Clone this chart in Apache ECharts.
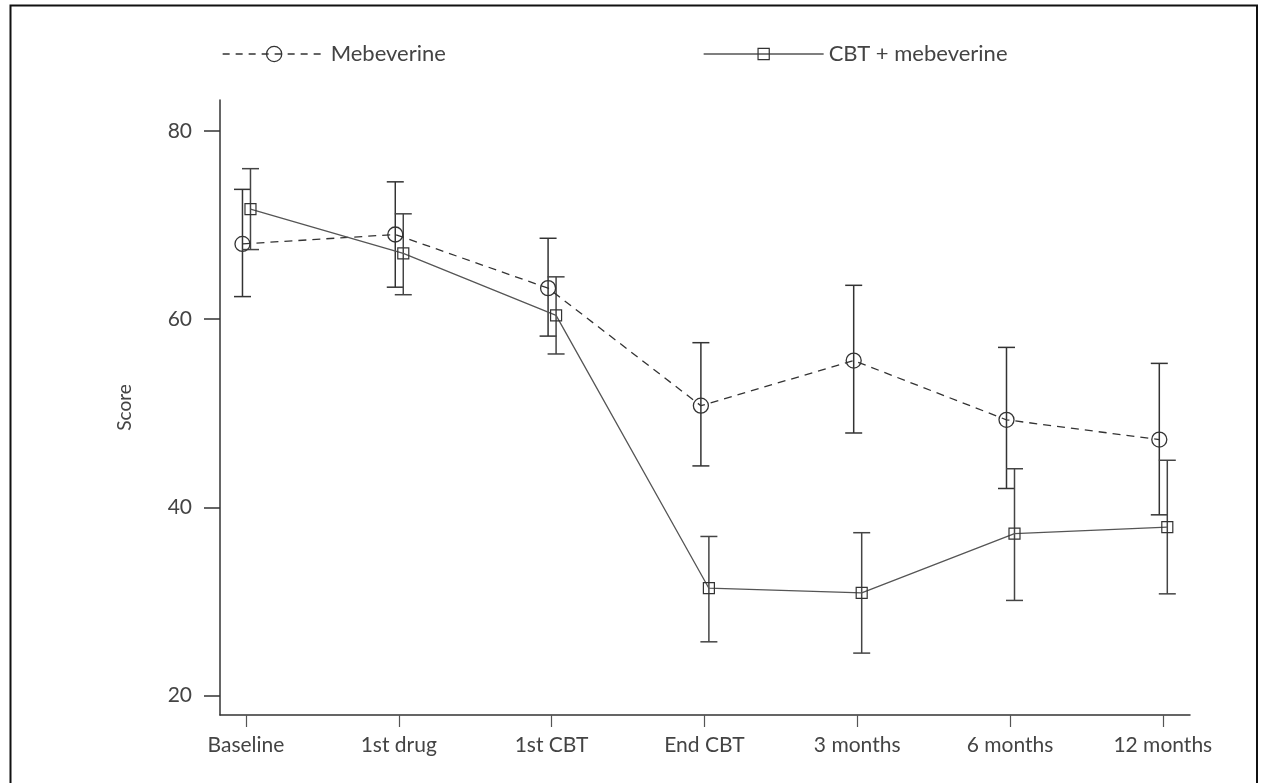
<!DOCTYPE html>
<html>
<head>
<meta charset="utf-8">
<script src="https://cdn.jsdelivr.net/npm/echarts@6/dist/echarts.min.js"></script>
<style>
  html, body { margin: 0; padding: 0; background: #fff; }
  #chart { width: 1261px; height: 783px; }
</style>
</head>
<body>
<div id="chart"></div>
<script>
// Time points
const categories = ['Baseline', '1st drug', '1st CBT', 'End CBT', '3 months', '6 months', '12 months'];

// Mebeverine group: mean score with lower / upper error limits
const mebMean  = [68.0, 69.0, 63.3, 50.8, 55.6, 49.3, 47.2];
const mebLow   = [62.4, 63.4, 58.2, 44.4, 47.9, 42.0, 39.2];
const mebHigh  = [73.8, 74.6, 68.6, 57.5, 63.6, 57.0, 55.3];

// CBT + mebeverine group
const cbtMean  = [71.7, 67.0, 60.4, 31.4, 30.9, 37.2, 37.9];
const cbtLow   = [67.4, 62.6, 56.3, 25.7, 24.5, 30.1, 30.8];
const cbtHigh  = [76.0, 71.2, 64.5, 36.9, 37.3, 44.1, 45.0];

// Y axis tick values
const yTicks = [20, 40, 60, 80];

// Layout
const GRID = { left: 220, right: 71, top: 100, bottom: 68 };
const X_MIN = -0.17, X_MAX = 6.178;
const Y_MIN = 17.92, Y_MAX = 83.3;
const PX_PER_X = (1261 - GRID.left - GRID.right) / (X_MAX - X_MIN);
// the two groups are nudged apart horizontally so their error bars do not overlap
const MEB_SHIFT = -3.5 / PX_PER_X;
const CBT_SHIFT = 4.5 / PX_PER_X;

const TEXT = '#444';
const INK = '#333';
const FONT = 'Lato, "Open Sans", sans-serif';

const mebLine = mebMean.map((v, i) => [i + MEB_SHIFT, v]);
const cbtLine = cbtMean.map((v, i) => [i + CBT_SHIFT, v]);
const mebBars = mebMean.map((v, i) => [i + MEB_SHIFT, mebLow[i], mebHigh[i]]);
const cbtBars = cbtMean.map((v, i) => [i + CBT_SHIFT, cbtLow[i], cbtHigh[i]]);

function errorBar(color) {
  return function (params, api) {
    const x = api.value(0);
    const lo = api.coord([x, api.value(1)]);
    const hi = api.coord([x, api.value(2)]);
    const half = 8.5;
    const style = { stroke: color, lineWidth: 1.5 };
    return {
      type: 'group',
      children: [
        { type: 'line', shape: { x1: lo[0], y1: lo[1], x2: hi[0], y2: hi[1] }, style },
        { type: 'line', shape: { x1: hi[0] - half, y1: hi[1], x2: hi[0] + half, y2: hi[1] }, style },
        { type: 'line', shape: { x1: lo[0] - half, y1: lo[1], x2: lo[0] + half, y2: lo[1] }, style }
      ]
    };
  };
}

const chart = echarts.init(document.getElementById('chart'), null, { renderer: 'canvas' });

chart.setOption({
  backgroundColor: '#fff',
  animation: false,
  textStyle: { fontFamily: FONT },
  graphic: [{
    type: 'rect',
    shape: { x: 10.5, y: 5.5, width: 1246.5, height: 820 },
    style: { fill: 'none', stroke: '#111', lineWidth: 2 },
    silent: true
  }],
  legend: [
    {
      data: ['Mebeverine'],
      left: 222, top: 43, padding: 0,
      itemWidth: 103, itemHeight: 19,
      textStyle: { color: TEXT, fontSize: 22, fontFamily: FONT },
      itemStyle: { color: 'rgba(0,0,0,0)', borderColor: INK, borderWidth: 1.3 },
      lineStyle: { color: INK, width: 1.3, type: [7, 6] },
      selectedMode: false
    },
    {
      data: ['CBT + mebeverine'],
      left: 703, top: 43, padding: 0,
      itemWidth: 120, itemHeight: 14,
      textStyle: { color: TEXT, fontSize: 22, fontFamily: FONT },
      itemStyle: { color: 'rgba(0,0,0,0)', borderColor: INK, borderWidth: 1.2 },
      lineStyle: { color: '#555', width: 1.3, type: 'solid' },
      selectedMode: false
    }
  ],
  grid: GRID,
  xAxis: {
    type: 'value',
    min: X_MIN, max: X_MAX,
    splitLine: { show: false },
    axisLine: { show: true, onZero: false, lineStyle: { color: INK, width: 1.5 } },
    axisTick: {
      show: true, length: 12, inside: false,
      customValues: categories.map((c, i) => i),
      lineStyle: { color: '#555', width: 1.2 }
    },
    axisLabel: {
      customValues: categories.map((c, i) => i),
      formatter: v => categories[Math.round(v)],
      color: TEXT, fontSize: 21, margin: 20, fontFamily: FONT
    }
  },
  yAxis: {
    type: 'value',
    min: Y_MIN, max: Y_MAX,
    name: 'Score',
    nameLocation: 'middle',
    nameGap: 86,
    nameRotate: 90,
    nameTextStyle: { color: TEXT, fontSize: 19, fontFamily: FONT },
    splitLine: { show: false },
    axisLine: { show: true, onZero: false, lineStyle: { color: INK, width: 1.5 } },
    axisTick: {
      show: true, length: 16, inside: false,
      customValues: yTicks,
      lineStyle: { color: INK, width: 1.5 }
    },
    axisLabel: {
      customValues: yTicks,
      color: TEXT, fontSize: 21, margin: 28, fontFamily: FONT
    }
  },
  series: [
    {
      name: 'Mebeverine',
      type: 'line',
      data: mebLine,
      symbol: 'circle',
      symbolSize: 15,
      itemStyle: { color: 'rgba(0,0,0,0)', borderColor: INK, borderWidth: 1.3 },
      lineStyle: { color: INK, width: 1.3, type: [8, 6] },
      z: 3
    },
    {
      name: 'CBT + mebeverine',
      type: 'line',
      data: cbtLine,
      symbol: 'rect',
      symbolSize: 11,
      itemStyle: { color: 'rgba(0,0,0,0)', borderColor: INK, borderWidth: 1.2 },
      lineStyle: { color: '#555', width: 1.3, type: 'solid' },
      z: 3
    },
    {
      type: 'custom',
      renderItem: errorBar(INK),
      data: mebBars,
      encode: { x: 0, y: [1, 2] },
      z: 2
    },
    {
      type: 'custom',
      renderItem: errorBar('#444'),
      data: cbtBars,
      encode: { x: 0, y: [1, 2] },
      z: 2
    }
  ]
});
</script>
</body>
</html>
